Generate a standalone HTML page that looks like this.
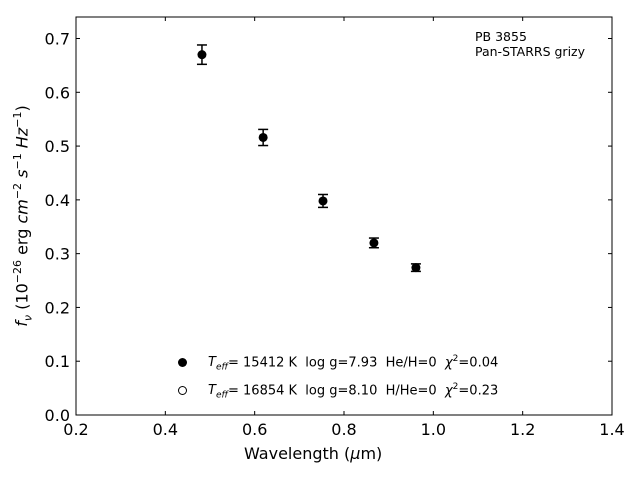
<!DOCTYPE html>
<html><head><meta charset="utf-8"><style>
body{margin:0;background:#fff;}
svg{display:block;font-family:"DejaVu Sans","Liberation Sans",sans-serif;}
</style></head><body>
<svg id="chart" width="640" height="480"></svg>
<script>
const wavelengths=[0.482,0.619,0.753,0.867,0.961];
const fluxes=[0.670,0.516,0.398,0.320,0.274];
const errors=[0.018,0.015,0.012,0.009,0.007];
const xTicks=[0.2,0.4,0.6,0.8,1.0,1.2,1.4];
const yTicks=[0.0,0.1,0.2,0.3,0.4,0.5,0.6,0.7];
const L=76,R=612,T=17,B=415;
const x=v=>L+(v-0.2)/1.2*(R-L);
const y=v=>B-v/0.74*(B-T);
const NS="http://www.w3.org/2000/svg";
const svg=document.getElementById('chart');
function mk(tag,attrs,parent){const e=document.createElementNS(NS,tag);for(const k in attrs)e.setAttribute(k,attrs[k]);(parent||svg).appendChild(e);return e;}
const frame=mk('rect',{x:L,y:T,width:R-L,height:B-T,fill:'none',stroke:'#000','stroke-width':1});


xTicks.forEach(t=>{
  const px=x(t);
  mk('line',{x1:px,x2:px,y1:B,y2:B-4,stroke:'#000'});
  mk('line',{x1:px,x2:px,y1:T,y2:T+4,stroke:'#000'});
  const tx=mk('text',{x:px,y:B+20,'text-anchor':'middle','font-size':16});
  tx.textContent=t.toFixed(1);
  
  
});
yTicks.forEach(t=>{
  const py=y(t);
  mk('line',{x1:L,x2:L+4,y1:py,y2:py,stroke:'#000'});
  mk('line',{x1:R,x2:R-4,y1:py,y2:py,stroke:'#000'});
  const tx=mk('text',{x:L-6,y:py+6,'text-anchor':'end','font-size':16});
  tx.textContent=t.toFixed(1);
  
  
});
wavelengths.forEach((w,i)=>{
  const px=x(w),py=y(fluxes[i]),e1=y(fluxes[i]+errors[i]),e2=y(fluxes[i]-errors[i]);
  const g=mk('g',{});
  
  
  mk('line',{x1:px,x2:px,y1:e1,y2:e2,stroke:'#000','stroke-width':1.5},g);
  mk('line',{x1:px-5,x2:px+5,y1:e1,y2:e1,stroke:'#000','stroke-width':1.5},g);
  mk('line',{x1:px-5,x2:px+5,y1:e2,y2:e2,stroke:'#000','stroke-width':1.5},g);
  mk('circle',{cx:px,cy:py,r:4.5,fill:'#000'},g);
});
</script>
<div style="position:absolute;left:0;top:0;width:640px;height:480px;pointer-events:none;font-family:'DejaVu Sans','Liberation Sans',sans-serif;">
  <div style="position:absolute;left:244px;top:444px;font-size:16px;">Wavelength (<i>μ</i>m)</div>
  <div style="position:absolute;left:23px;top:216px;font-size:16px;white-space:nowrap;transform:translate(-50%,-50%) rotate(-90deg);"><i>f<sub style="font-size:11px">ν</sub></i> (10<sup style="font-size:11px">−26</sup> erg <i>cm</i><sup style="font-size:11px">−2</sup> <i>s</i><sup style="font-size:11px">−1</sup> <i>Hz</i><sup style="font-size:11px">−1</sup>)</div>
  <div style="position:absolute;left:475px;top:29px;font-size:12.5px;line-height:15px;">PB 3855<br>Pan-STARRS grizy</div>
  <div style="position:absolute;left:176px;top:355px;font-size:13px;">
    <div style="position:relative;height:28px;">
      <span style="position:absolute;left:2px;top:3px;width:9px;height:9px;border-radius:50%;background:#000;"></span>
      <span style="position:absolute;left:32px;top:-1px;white-space:nowrap;"><i>T<sub style="font-size:9px">eff</sub></i>= 15412 K &nbsp;log g=7.93 &nbsp;He/H=0 &nbsp;<i>χ</i><sup style="font-size:9px">2</sup>=0.04</span>
    </div>
    <div style="position:relative;height:28px;">
      <span style="position:absolute;left:2px;top:3px;width:7px;height:7px;border-radius:50%;border:1px solid #000;"></span>
      <span style="position:absolute;left:32px;top:-1px;white-space:nowrap;"><i>T<sub style="font-size:9px">eff</sub></i>= 16854 K &nbsp;log g=8.10 &nbsp;H/He=0 &nbsp;<i>χ</i><sup style="font-size:9px">2</sup>=0.23</span>
    </div>
  </div>
</div>
</body></html>
